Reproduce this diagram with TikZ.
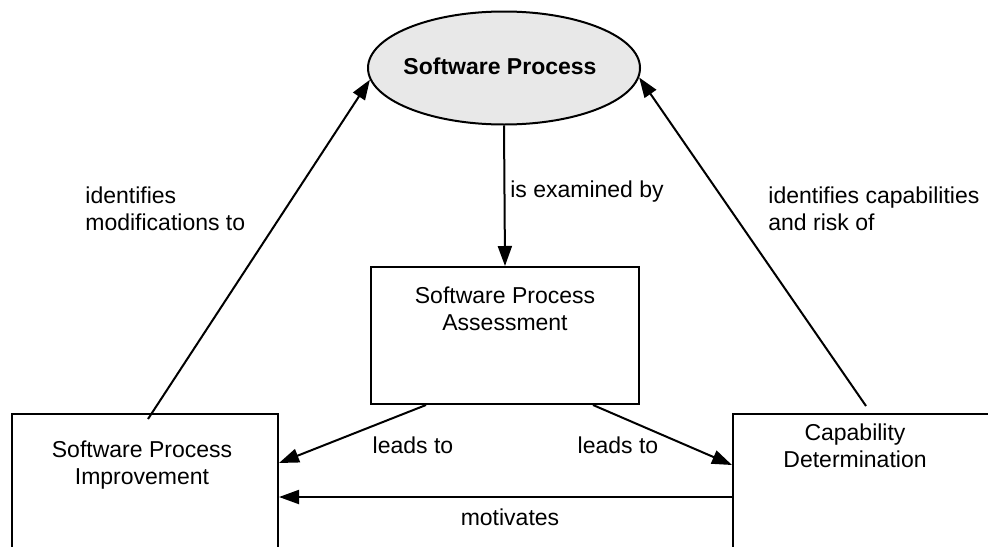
\documentclass[tikz,border=0pt]{standalone}
\usepackage{fontspec}
\setmainfont{Liberation Sans}
\usetikzlibrary{arrows.meta,shapes.geometric,calc}
\begin{document}
\begin{tikzpicture}[x=0.5pt,y=-0.5pt,
  every node/.style={font=\fontsize{11.5pt}{13.5pt}\selectfont},
  conn/.style={line width=1pt,-{Triangle[length=10pt,width=7pt]}},
  boxstyle/.style={draw,line width=1pt,rectangle,inner sep=0pt},
  lbl/.style={inner sep=0pt,align=left}]
\clip (0,0) rectangle (988,546);
\useasboundingbox (0,0) rectangle (988,546);
% nodes
\node[draw,line width=1pt,ellipse,fill={rgb,255:red,232;green,232;blue,232},minimum width=136pt,minimum height=56.5pt,inner sep=0pt] (sp) at (504,68) {};
\node[font=\bfseries\fontsize{11.5pt}{13.5pt}\selectfont,inner sep=0pt] (sptext) at (500,66) {Software Process};
\node[boxstyle,minimum width=134pt,minimum height=68.5pt] (spa) at (505,335.5) {};
\node[align=center,inner sep=0pt] (spatext) at (505,309) {Software Process\\Assessment};
\node[boxstyle,minimum width=133pt,minimum height=150pt,anchor=north west] (spi) at (11,413) {};
\node[align=center,inner sep=0pt] (spitext) at (142,465) {Software Process\\Improvement};
\node[boxstyle,minimum width=200pt,minimum height=150pt,anchor=north west] (cd) at (732,413) {};
\node[align=center,inner sep=0pt] (cdtext) at (855,446) {Capability\\Determination};
% connectors
\draw[conn] (sp.south) -- (spa.north);
\draw[conn] ($(spa.south west)+(56,0)$) -- ($(spi.north east)+(0,50)$);
\draw[conn] ($(spa.south east)+(-47,0)$) -- ($(cd.north west)+(0,52)$);
\draw[conn] ($(cd.north west)+(0,84)$) -- ($(spi.north east)+(0,84)$);
\draw[conn] ($(spi.north west)+(137,6)$) -- (sp.185);
\draw[conn] ($(cd.north west)+(134,-7)$) -- (sp.-4);
% labels
\node[lbl] (l1) at (587,192) {is examined by};
\node[lbl,anchor=west] (l2) at (85,209) {identifies\\modifications to};
\node[lbl,anchor=west] (l3) at (768,209) {identifies capabilities\\and risk of};
\node[lbl] (l4) at (413,445) {leads to};
\node[lbl] (l5) at (618,445) {leads to};
\node[lbl] (l6) at (510,517) {motivates};
\end{tikzpicture}
\end{document}
